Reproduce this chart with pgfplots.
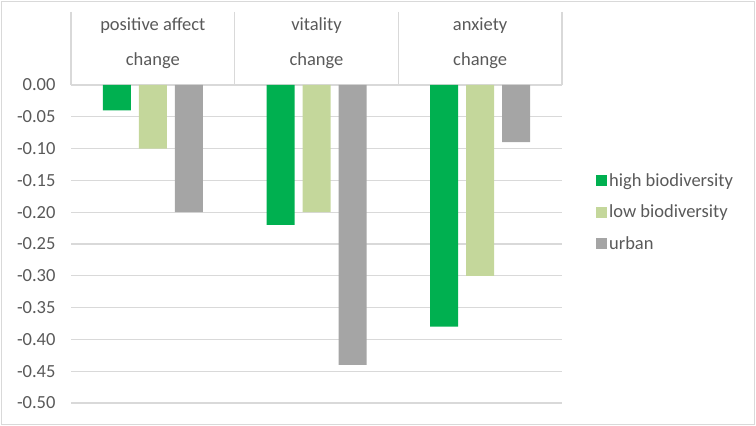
\documentclass[border=0pt]{standalone}
\usepackage{pgfplots}
\pgfplotsset{compat=1.18}
\usepackage{fontspec}
\setmainfont{Carlito}
\definecolor{hibio}{HTML}{00B050}
\definecolor{lobio}{HTML}{C4D79B}
\definecolor{urb}{HTML}{A5A5A5}
\definecolor{txt}{HTML}{595959}
\definecolor{gridc}{HTML}{D9D9D9}
\begin{document}
\begin{tikzpicture}
\useasboundingbox (0,0) rectangle (756bp,426bp);
\draw[gridc, line width=1.3bp] (1.5bp,1.5bp) rectangle (754.5bp,424.5bp);
\begin{axis}[
  at={(71bp,23bp)}, anchor=south west,
  scale only axis, width=491bp, height=318bp,
  ybar=8bp, bar width=28bp,
  xmin=-0.5, xmax=2.5, ymin=-0.5, ymax=0,
  xtick={0,1,2},
  xticklabels={{positive affect\\[13bp]change},{vitality\\[13bp]change},{anxiety\\[13bp]change}},
  xticklabel pos=upper,
  xticklabel style={align=center, anchor=center, yshift=42bp, font=\fontsize{18.5bp}{22bp}\selectfont, text=txt},
  ytick={-0.5,-0.45,...,0.01},
  yticklabel style={font=\fontsize{18.5bp}{22bp}\selectfont, text=txt, xshift=-12bp},
  /pgf/number format/.cd, fixed, fixed zerofill, precision=2, assume math mode=true,
  /pgfplots/.cd,
  ymajorgrids, grid style={gridc, line width=1.2bp},
  axis line style={draw=none},
  major tick length=0pt,
  clip=false,
  legend style={at={(1.063,0.60)}, anchor=west, draw=none, fill=none,
    font=\fontsize{18.5bp}{22bp}\selectfont, text=txt,
    row sep=13bp, legend cell align=left},
  legend image code/.code={\fill[#1] (-3bp,-5.5bp) rectangle (8bp,5.5bp);},
]
\addplot[fill=hibio, draw=none] coordinates {(0,-0.04) (1,-0.22) (2,-0.38)};
\addplot[fill=lobio, draw=none] coordinates {(0,-0.10) (1,-0.20) (2,-0.30)};
\addplot[fill=urb, draw=none] coordinates {(0,-0.20) (1,-0.44) (2,-0.09)};
\legend{high biodiversity, low biodiversity, urban}
\pgfplotsinvokeforeach{-0.5,0.5,1.5,2.5}{
  \draw[gridc, line width=1.2bp] ([yshift=73bp]axis cs:#1,0) -- (axis cs:#1,0);
}
\end{axis}
\end{tikzpicture}
\end{document}
